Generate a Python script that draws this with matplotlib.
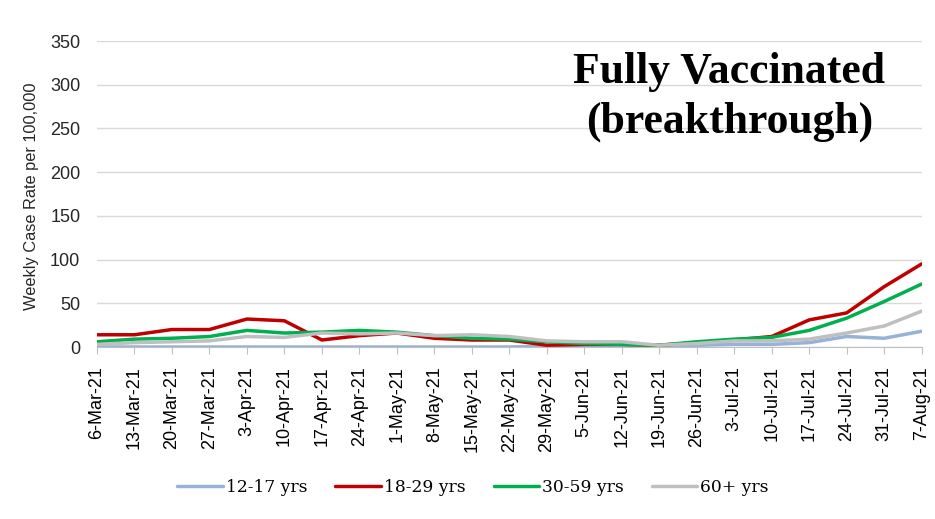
import matplotlib
matplotlib.use("Agg")
import matplotlib.pyplot as plt

dates = ["6-Mar-21", "13-Mar-21", "20-Mar-21", "27-Mar-21", "3-Apr-21", "10-Apr-21",
         "17-Apr-21", "24-Apr-21", "1-May-21", "8-May-21", "15-May-21", "22-May-21",
         "29-May-21", "5-Jun-21", "12-Jun-21", "19-Jun-21", "26-Jun-21", "3-Jul-21",
         "10-Jul-21", "17-Jul-21", "24-Jul-21", "31-Jul-21", "7-Aug-21"]

age_12_17 = [0, 0, 0, 0, 0, 0, 0, 0, 0, 0, 0, 0, 1, 1, 2, 2, 2, 3, 3, 5, 12, 10, 18]
age_18_29 = [14, 14, 20, 20, 32, 30, 8, 13, 16, 10, 8, 8, 2, 3, 3, 2, 5, 8, 12, 31, 39, 69, 95]
age_30_59 = [6, 9, 10, 12, 19, 16, 17, 19, 17, 13, 10, 9, 6, 4, 3, 2, 6, 9, 11, 19, 33, 52, 72]
age_60p = [3, 5, 6, 7, 12, 11, 16, 15, 16, 13, 14, 12, 7, 6, 6, 2, 4, 7, 7, 9, 16, 24, 41]

series = [
    ("12-17 yrs", age_12_17, "#95B3D7"),
    ("18-29 yrs", age_18_29, "#C00000"),
    ("30-59 yrs", age_30_59, "#00B050"),
    ("60+ yrs", age_60p, "#BFBFBF"),
]

fig = plt.figure(figsize=(9.35, 5.19), dpi=100)
ax = fig.add_axes([0.1037, 0.3314, 0.882, 0.5896])

x = list(range(len(dates)))
for label, vals, col in series:
    ax.plot(x, vals, color=col, lw=2.5, label=label, solid_capstyle="round")

ax.set_xlim(0, len(dates) - 1)
ax.set_ylim(0, 350)
ax.set_yticks(range(0, 351, 50))
ax.yaxis.grid(True, color="#D9D9D9", lw=1)
ax.set_axisbelow(True)
for s in ["top", "right", "left"]:
    ax.spines[s].set_visible(False)
ax.spines["bottom"].set_color("#BFBFBF")
ax.tick_params(axis="y", length=0, pad=12, labelcolor="#262626")
ax.tick_params(axis="x", length=5, color="#BFBFBF", labelcolor="black", pad=9)
ax.set_xticks(x)
ax.set_xticklabels(dates, rotation=90, family="Liberation Sans", fontsize=13)
for t in ax.get_yticklabels():
    t.set_family("Liberation Sans")
    t.set_fontsize(13)

fig.text(0.0342, 0.622, "Weekly Case Rate per 100,000", rotation=90, ha="center", va="center",
         fontsize=11.8, family="Liberation Sans", color="#262626")

fig.text(0.780, 0.840, "Fully Vaccinated", ha="center", va="baseline",
         fontsize=31.5, fontweight="bold", family="Liberation Serif")
fig.text(0.780, 0.744, "(breakthrough)", ha="center", va="baseline",
         fontsize=31.5, fontweight="bold", family="Liberation Serif")

leg = fig.legend(loc="center", bbox_to_anchor=(0.506, 0.06), ncol=4, frameon=False,
                 prop={"family": "DejaVu Serif", "size": 12.3}, handlelength=2.65,
                 columnspacing=1.65, handletextpad=0.18)

fig.savefig("out.png", dpi=100)
